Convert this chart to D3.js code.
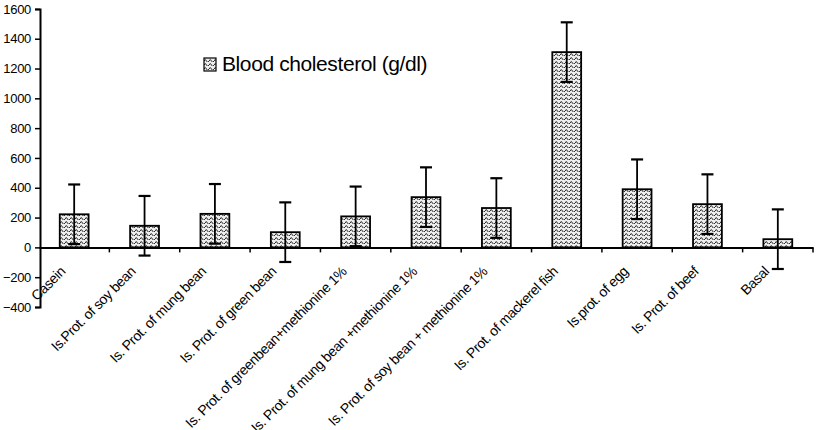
<!DOCTYPE html>
<html>
<head>
<meta charset="utf-8">
<script src="https://cdn.jsdelivr.net/npm/d3@7"></script>
<style>
  body { margin: 0; background: #fff; }
  text { font-family: "Liberation Sans", Arial, sans-serif; fill: #000; }
</style>
</head>
<body>
<div class="chart"></div>
<script>
// Data
const categories = [
  "Casein",
  "Is.Prot. of soy bean",
  "Is. Prot. of mung bean",
  "Is. Prot. of green bean",
  "Is. Prot. of greenbean+methionine 1%",
  "Is. Prot. of mung bean +methionine 1%",
  "Is. Prot. of soy bean + methionine 1%",
  "Is. Prot. of mackerel fish",
  "Is.prot. of egg",
  "Is. Prot. of beef",
  "Basal"
];
const cholesterol = [222, 145, 225, 102, 208, 337, 264, 1310, 390, 290, 55];
const errors = [200, 200, 200, 200, 200, 200, 200, 200, 200, 200, 200];
const yTicks = [-400, -200, 0, 200, 400, 600, 800, 1000, 1200, 1400, 1600];
const seriesName = "Blood cholesterol (g/dl)";

const svgWidth = 816,
      svgHeight = 430;

const svg = d3.select(".chart")
  .append("svg")
  .attr("width", svgWidth)
  .attr("height", svgHeight);

// Wavy fill used by the bars
const defs = svg.append("defs");
const pat = defs.append("pattern")
  .attr("id", "wave")
  .attr("patternUnits", "userSpaceOnUse")
  .attr("width", 5)
  .attr("height", 4);
pat.append("rect").attr("width", 5).attr("height", 4).attr("fill", "#eeeeee");
pat.append("path")
  .attr("d", "M0,3 Q1.25,0 2.5,3 T5,3")
  .attr("fill", "none")
  .attr("stroke", "#222")
  .attr("stroke-width", 1);

// Scales
const yScale = d3.scaleLinear()
  .domain([-400, 1600])
  .range([307, 8.9]);

const xScale = d3.scaleBand()
  .domain(categories)
  .range([39, 813])
  .paddingInner(0.59)
  .paddingOuter(0.295);

const step = xScale.step();
const bw = xScale.bandwidth();
const gap = (step - bw) / 2;

// Y axis
const yAxis = d3.axisLeft(yScale)
  .tickValues(yTicks)
  .tickFormat(d3.format("d"))
  .tickSize(5)
  .tickPadding(4);
const yG = svg.append("g")
  .attr("transform", "translate(40,0)")
  .call(yAxis);
yG.select(".domain").attr("stroke", "#000").attr("stroke-width", 2);
yG.selectAll(".tick line").attr("stroke", "#000").attr("stroke-width", 1.5);
yG.selectAll(".tick text")
  .style("font-family", "Liberation Sans, Arial, sans-serif")
  .style("font-size", "13px")
  .style("letter-spacing", "-0.3px")
  .attr("fill", "#000");

// X axis (line + ticks at category boundaries)
const x0 = yScale(0);
const xAxis = d3.axisBottom(xScale).tickSize(0).tickFormat("");
const xG = svg.append("g")
  .attr("transform", `translate(0,${x0})`)
  .call(xAxis);
xG.select(".domain").attr("stroke", "#000").attr("stroke-width", 2);

svg.append("g")
  .selectAll("line")
  .data(categories)
  .enter()
  .append("line")
  .attr("x1", d => xScale(d) + bw + gap)
  .attr("x2", d => xScale(d) + bw + gap)
  .attr("y1", x0)
  .attr("y2", x0 + 5)
  .attr("stroke", "#000")
  .attr("stroke-width", 1.5);

// Bars
svg.append("g")
  .selectAll("rect")
  .data(cholesterol)
  .enter()
  .append("rect")
  .attr("x", (d, i) => xScale(categories[i]))
  .attr("y", d => yScale(d))
  .attr("width", bw)
  .attr("height", d => yScale(0) - yScale(d))
  .attr("fill", "url(#wave)")
  .attr("stroke", "#000")
  .attr("stroke-width", 1.8);

// Error bars
const capW = 6;
const err = svg.append("g")
  .selectAll("g")
  .data(cholesterol)
  .enter()
  .append("g")
  .attr("stroke", "#000")
  .attr("stroke-width", 1.8);

err.append("line")
  .attr("x1", (d, i) => xScale(categories[i]) + bw / 2)
  .attr("x2", (d, i) => xScale(categories[i]) + bw / 2)
  .attr("y1", (d, i) => yScale(d + errors[i]))
  .attr("y2", (d, i) => yScale(d - errors[i]));

err.append("line")
  .attr("x1", (d, i) => xScale(categories[i]) + bw / 2 - capW)
  .attr("x2", (d, i) => xScale(categories[i]) + bw / 2 + capW)
  .attr("y1", (d, i) => yScale(d + errors[i]))
  .attr("y2", (d, i) => yScale(d + errors[i]))
  .attr("stroke-width", 2.2);

err.append("line")
  .attr("x1", (d, i) => xScale(categories[i]) + bw / 2 - capW)
  .attr("x2", (d, i) => xScale(categories[i]) + bw / 2 + capW)
  .attr("y1", (d, i) => yScale(d - errors[i]))
  .attr("y2", (d, i) => yScale(d - errors[i]))
  .attr("stroke-width", 2.2);

// Rotated category labels
svg.append("g")
  .selectAll("text")
  .data(categories)
  .enter()
  .append("text")
  .attr("transform", d => `translate(${xScale(d) + bw / 2 - 8},${x0 + 25}) rotate(-45)`)
  .attr("text-anchor", "end")
  .style("font-size", "14px")
  .style("letter-spacing", "-0.4px")
  .text(d => d);

// Legend
const legend = svg.append("g").attr("transform", "translate(204,58)");
legend.append("rect")
  .attr("width", 12)
  .attr("height", 13)
  .attr("fill", "url(#wave)")
  .attr("stroke", "#000")
  .attr("stroke-width", 1.2);
legend.append("text")
  .attr("x", 18)
  .attr("y", 13)
  .style("font-size", "21px")
  .style("letter-spacing", "-0.4px")
  .text(seriesName);
</script>
</body>
</html>
